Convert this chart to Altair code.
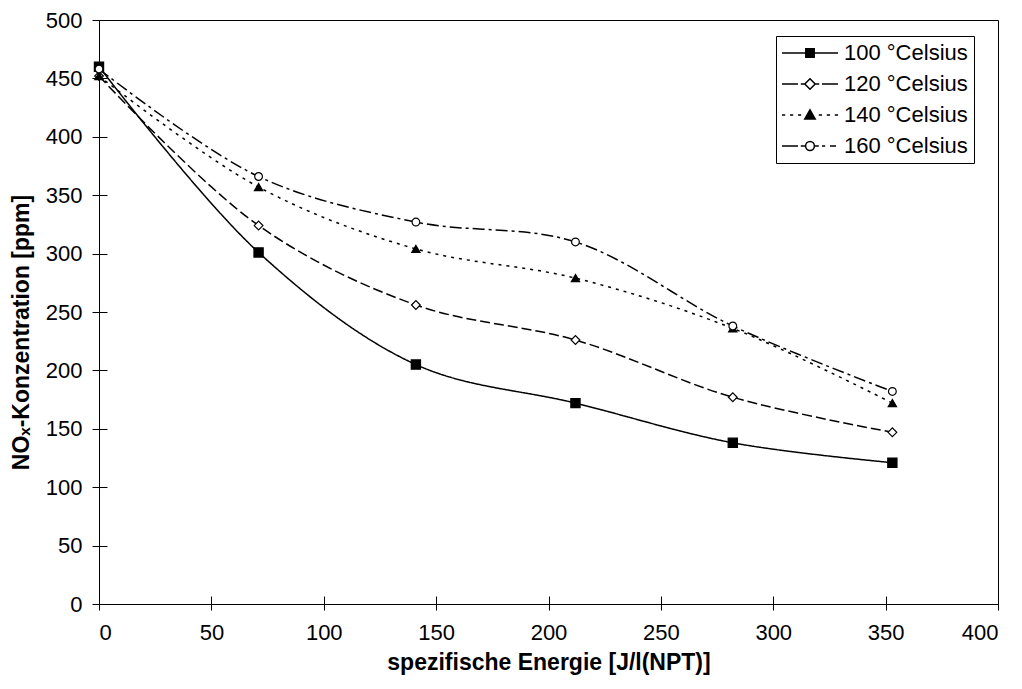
import altair as alt
import pandas as pd

energy = [0, 71, 141, 212, 282, 353]
series = ["100 °Celsius", "120 °Celsius", "140 °Celsius", "160 °Celsius"]
nox_100 = [460, 301, 205, 172, 138, 121]
nox_120 = [452, 324, 256, 226, 177, 147]
nox_140 = [452, 357, 304, 279, 236, 172]
nox_160 = [458, 366, 327, 310, 238, 182]
x_ticks = [0, 50, 100, 150, 200, 250, 300, 350, 400]
y_ticks = [0, 50, 100, 150, 200, 250, 300, 350, 400, 450, 500]

rows = []
for s, vals in zip(series, [nox_100, nox_120, nox_140, nox_160]):
    for x, v in zip(energy, vals):
        rows.append({"series": s, "energy": x, "nox": v})
df = pd.DataFrame(rows)

FONT = "Liberation Sans"
xscale = alt.Scale(domain=[0, 400], nice=False, zero=False)
yscale = alt.Scale(domain=[0, 500], nice=False)

dash_range = [[1, 0], [10, 4], [3, 5], [12, 4, 3, 4]]
shape_range = ["square", "diamond", "triangle-up", "circle"]
fill_range = ["black", "white", "black", "white"]
size_range = [85, 60, 80, 75]

# legend glyphs (line sample + marker), drawn with strokes only; filled markers are hatched solid
legend_paths = [
    "M-7,0H7M-1.05,-1.05H1.05V1.05H-1.05Z"
    "M-1.05,-0.75H1.05M-1.05,-0.5H1.05M-1.05,-0.25H1.05"
    "M-1.05,0.25H1.05M-1.05,0.5H1.05M-1.05,0.75H1.05",
    "M-7,0H-3M-2.3,0H-1.4M1.4,0H2.3M3,0H7M0,-1.3L1.3,0L0,1.3L-1.3,0Z",
    "M-7,0H-6.2M-5,0H-4.2M-3,0H-2.2M2.2,0H3M4.2,0H5M6.2,0H7"
    "M0,-1.3L1.3,1L-1.3,1Z"
    "M-0.14,-1.05H0.14M-0.28,-0.8H0.28M-0.42,-0.55H0.42M-0.56,-0.3H0.56"
    "M-0.7,-0.05H0.7M-0.85,0.2H0.85M-0.99,0.45H0.99M-1.13,0.7H1.13M-1.27,0.95H1.27",
    "M-7,0H-3M-2.3,0H-1.2M1.2,0H2.2M3,0H3.8M5,0H6.5"
    "M1.1,0A1.1,1.1,0,1,1,-1.1,0A1.1,1.1,0,1,1,1.1,0Z",
]

main_x_axis = alt.Axis(
    orient="bottom", values=x_ticks, title="spezifische Energie [J/l(NPT)]",
    grid=False, domainColor="black", tickColor="black", tickSize=6,
    labelPadding=12, labelFontSize=22, labelFont=FONT, labelColor="black",
    titleFont=FONT, titleFontSize=23, titleFontWeight="bold", titleColor="black",
    titleY=58, titleBaseline="middle",
)
main_y_axis = alt.Axis(
    orient="left", values=y_ticks, title="NOₓ-Konzentration [ppm]",
    grid=False, domainColor="black", tickColor="black", tickSize=7,
    labelPadding=10, labelFontSize=22, labelFont=FONT, labelColor="black",
    titleFont=FONT, titleFontSize=23, titleFontWeight="bold", titleColor="black",
    titleX=-78, titleY=312, titleAlign="center", titleBaseline="middle",
)
inner_x_axis = alt.Axis(orient="bottom", values=x_ticks, title=None, labels=False,
                        domain=False, grid=False, tickColor="black", tickSize=8, offset=-8)
inner_y_axis = alt.Axis(orient="left", values=y_ticks, title=None, labels=False,
                        domain=False, grid=False, tickColor="black", tickSize=8, offset=-8)

lines = alt.Chart(df).mark_line(interpolate="catmull-rom", color="black", strokeWidth=1.5).encode(
    x=alt.X("energy:Q", scale=xscale, axis=main_x_axis),
    y=alt.Y("nox:Q", scale=yscale, axis=main_y_axis),
    detail="series:N",
    strokeDash=alt.StrokeDash("series:N", scale=alt.Scale(domain=series, range=dash_range), legend=None),
)

points = alt.Chart(df).mark_point(stroke="black", strokeWidth=1.2, opacity=1).encode(
    x=alt.X("energy:Q", scale=xscale, axis=None),
    y=alt.Y("nox:Q", scale=yscale, axis=None),
    shape=alt.Shape("series:N", scale=alt.Scale(domain=series, range=shape_range), legend=None),
    fill=alt.Fill("series:N", scale=alt.Scale(domain=series, range=fill_range), legend=None),
    size=alt.Size("series:N", scale=alt.Scale(domain=series, range=size_range), legend=None),
)

leg = alt.Legend(
    title=None, orient="none", legendX=677, legendY=16, strokeColor="black",
    fillColor="white", padding=6, labelFont=FONT, labelFontSize=22, labelColor="black",
    symbolSize=64, symbolStrokeWidth=1.5, symbolStrokeColor="black", symbolOpacity=1,
    symbolFillColor="transparent", symbolOffset=17, labelOffset=23, rowPadding=9,
)

legend_layer = alt.Chart(df).mark_point(opacity=0, size=64, filled=False, color="black",
                                        strokeWidth=1.5).encode(
    x=alt.X("energy:Q", scale=xscale, axis=inner_x_axis),
    y=alt.Y("nox:Q", scale=yscale, axis=inner_y_axis),
    shape=alt.Shape("series:N", scale=alt.Scale(domain=series, range=legend_paths), legend=leg),
)

chart = alt.layer(lines, points, legend_layer).resolve_scale(
    shape="independent", fill="independent", strokeDash="independent", size="independent"
).resolve_axis(x="independent", y="independent").properties(
    width=899, height=584,
    padding={"left": 91, "top": 12, "right": 16, "bottom": 75},
    autosize=alt.AutoSizeParams(type="none"),
    background="white",
).configure_view(stroke="black", strokeWidth=1)

chart.save("out.html", embed_options={"renderer": "svg", "actions": False})
